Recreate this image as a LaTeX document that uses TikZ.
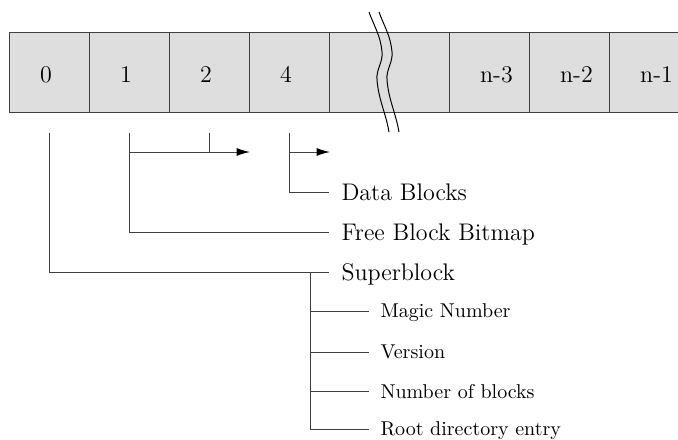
\documentclass[tikz,border=0pt]{standalone}
\usetikzlibrary{arrows.meta}

\begin{document}
\begin{tikzpicture}[x=0.5pt, y=-0.5pt, line width=0.5pt, draw=black!75,
    >={Latex[length=6.7pt, width=4pt, color=black]}]
  \tikzstyle{cell}=[draw, fill=black!13, minimum width=40pt, minimum height=40pt, inner sep=0pt,
    font=\large, text height=10pt, text depth=0pt]
  \tikzstyle{part}=[anchor=west, inner xsep=6pt, font=\large, text depth=0pt]
  \tikzstyle{field}=[anchor=west, inner xsep=5.5pt, text depth=0pt]
  \useasboundingbox (0,0) rectangle (678,439);

  % the block strip
  \foreach \name/\lbl/\x/\dx in {c0/0/49.5/-3.5pt, c1/1/129.5/-3.5pt, c2/2/209.5/-3.5pt, c4/4/289.5/-3.5pt,
      cn3/n-3/489.5/7pt, cn2/n-2/569.5/7pt, cn1/n-1/649.5/7pt}
    \node[cell] (\name) at (\x,72) {\kern\dx\lbl};
  \node[cell, minimum width=60pt] (cgap) at (389.5,72) {};

  % break marks
  \foreach \dx in {0,10}
    \draw[black] (369+\dx,12) to[out=-70,in=95] (382+\dx,52) to[out=-85,in=95] (377+\dx,80)
      to[out=-85,in=100] (389+\dx,132);

  % what the blocks hold
  \node[part] (data) at (329,192) {Data Blocks};
  \node[part] (bitmap) at (329,232) {Free Block Bitmap};
  \node[part] (super) at (329,272) {Superblock};
  \coordinate (bmtip) at (250,152);
  \coordinate (dbtip) at (330,152);
  \coordinate (sbroot) at (310,272);

  \draw[->, shorten <=10pt] (c1.south) |- (bmtip);
  \draw[shorten <=10pt] (c2.south) -- (c2.south |- bmtip);
  \draw[->, shorten <=10pt] (c4.south) |- (dbtip);
  \draw[shorten <=10pt] (c4.south) |- (data.west);
  \draw[shorten <=10pt] (c1.south) |- (bitmap.west);
  \draw[shorten <=10pt] (c0.south) |- (super.west);

  % superblock fields
  \foreach \name/\y/\txt in {magic/311/Magic Number, version/352/Version,
      nblocks/391/Number of blocks, rootdir/429/Root directory entry}
    \node[field] (\name) at (369,\y) {\txt};
  \draw (sbroot) |- (rootdir.west);
  \foreach \name in {magic, version, nblocks}
    \draw (sbroot |- \name.west) -- (\name.west);
\end{tikzpicture}
\end{document}
